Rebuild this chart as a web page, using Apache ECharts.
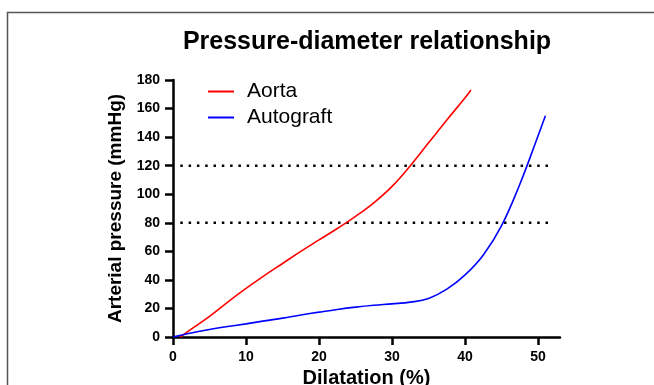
<!DOCTYPE html>
<html>
<head>
<meta charset="utf-8">
<script src="https://cdn.jsdelivr.net/npm/echarts@6/dist/echarts.min.js"></script>
<style>
  html, body { margin: 0; padding: 0; background: #fff; }
  #chart { width: 654px; height: 385px; }
</style>
</head>
<body>
<div id="chart"></div>
<script>
// dilatation (%) vs arterial pressure (mmHg)
const aortaX = [1, 2.5, 5, 7.5, 10, 12.5, 15, 17.5, 20, 22.5, 25, 27.5, 30, 32.5, 35, 37.5, 40, 40.8];
const aortaY = [0, 5.5, 14.5, 24.5, 34, 43, 51.5, 60, 68, 76, 84.5, 94, 105.5, 120, 136, 152, 167.5, 173];

const autograftX = [0, 2.5, 5, 7.5, 10, 12.5, 15, 17.5, 20, 22.5, 25, 27.5, 30, 32.5, 35, 37.5, 40, 42.5, 45, 47.5, 50, 51];
const autograftY = [0, 2.8, 5.2, 7.3, 9.2, 11.3, 13.2, 15.4, 17.4, 19.3, 20.9, 22.2, 23.2, 24.4, 27, 33.5, 43.5, 57.5, 78, 107, 141, 155];

// dotted reference pressures
const refPressures = [80, 120];
const refFrom = 1;
const refTo = 51.5;

const xTicks = [0, 10, 20, 30, 40, 50];
const yTicks = [0, 20, 40, 60, 80, 100, 120, 140, 160, 180];

const zip = (xs, ys) => xs.map((x, i) => [x, ys[i]]);

const chart = echarts.init(document.getElementById("chart"));

const refSeries = refPressures.map((p) => ({
	type: "line",
	data: [[refFrom, p], [refTo, p]],
	symbol: "none",
	silent: true,
	lineStyle: { color: "#000", width: 2.5, type: [2.5, 5.8] },
	z: 1,
}));

const lineIcon = "path://M0,0H26V2H0Z";

chart.setOption({
	animation: false,
	title: {
		text: "Pressure-diameter relationship",
		left: 362,
		top: 25,
		textAlign: "center",
		textStyle: {
			fontFamily: "Liberation Sans",
			fontWeight: "bold",
			fontSize: 25,
			color: "#000",
		},
	},
	graphic: [
		{
			type: "polyline",
			shape: { points: [[7.5, 400], [7.5, 12.5], [660, 12.5]] },
			style: { stroke: "#555", lineWidth: 1.5, fill: null },
		},
	],
	legend: {
		left: 203,
		top: 76,
		orient: "vertical",
		itemWidth: 26,
		itemHeight: 2,
		itemGap: 5,
		textStyle: { fontFamily: "Liberation Sans", fontSize: 21, color: "#000", padding: [0, 0, 0, 8] },
		data: [
			{ name: "Aorta", icon: lineIcon },
			{ name: "Autograft", icon: lineIcon },
		],
	},
	grid: { left: 173, right: 94, top: 80, bottom: 48, outerBoundsMode: "none" },
	xAxis: {
		type: "value",
		min: 0,
		max: 53,
		interval: 10,
		name: "Dilatation (%)",
		nameLocation: "middle",
		nameGap: 31,
		nameTextStyle: { fontFamily: "Liberation Sans", fontWeight: "bold", fontSize: 20, color: "#000" },
		axisLine: { show: true, lineStyle: { color: "#000", width: 2.5 } },
		axisTick: { show: true, length: 8, lineStyle: { color: "#000", width: 2.5 } },
		axisLabel: {
			margin: 13,
			fontFamily: "Liberation Sans",
			fontWeight: "bold",
			fontSize: 14,
			color: "#000",
			showMaxLabel: false,
			formatter: (v) => (xTicks.includes(v) ? String(v) : ""),
		},
		splitLine: { show: false },
	},
	yAxis: {
		type: "value",
		min: 0,
		max: 180,
		interval: 20,
		name: "Arterial pressure (mmHg)",
		nameLocation: "middle",
		nameGap: 47,
		nameTextStyle: { fontFamily: "Liberation Sans", fontWeight: "bold", fontSize: 19, color: "#000" },
		axisLine: { show: true, lineStyle: { color: "#000", width: 2.5 } },
		axisTick: { show: true, length: 8, lineStyle: { color: "#000", width: 2.5 } },
		axisLabel: {
			margin: 13,
			fontFamily: "Liberation Sans",
			fontWeight: "bold",
			fontSize: 14,
			color: "#000",
			formatter: (v) => (yTicks.includes(v) ? String(v) : ""),
		},
		splitLine: { show: false },
	},
	series: [
		{
			name: "Aorta",
			type: "line",
			data: zip(aortaX, aortaY),
			smooth: 0.4,
			symbol: "none",
			lineStyle: { color: "#ff0000", width: 1.6 },
			itemStyle: { color: "#ff0000" },
			z: 3,
		},
		{
			name: "Autograft",
			type: "line",
			data: zip(autograftX, autograftY),
			smooth: 0.4,
			symbol: "none",
			lineStyle: { color: "#0000ff", width: 1.6 },
			itemStyle: { color: "#0000ff" },
			z: 3,
		},
		...refSeries,
	],
});
</script>
</body>
</html>
